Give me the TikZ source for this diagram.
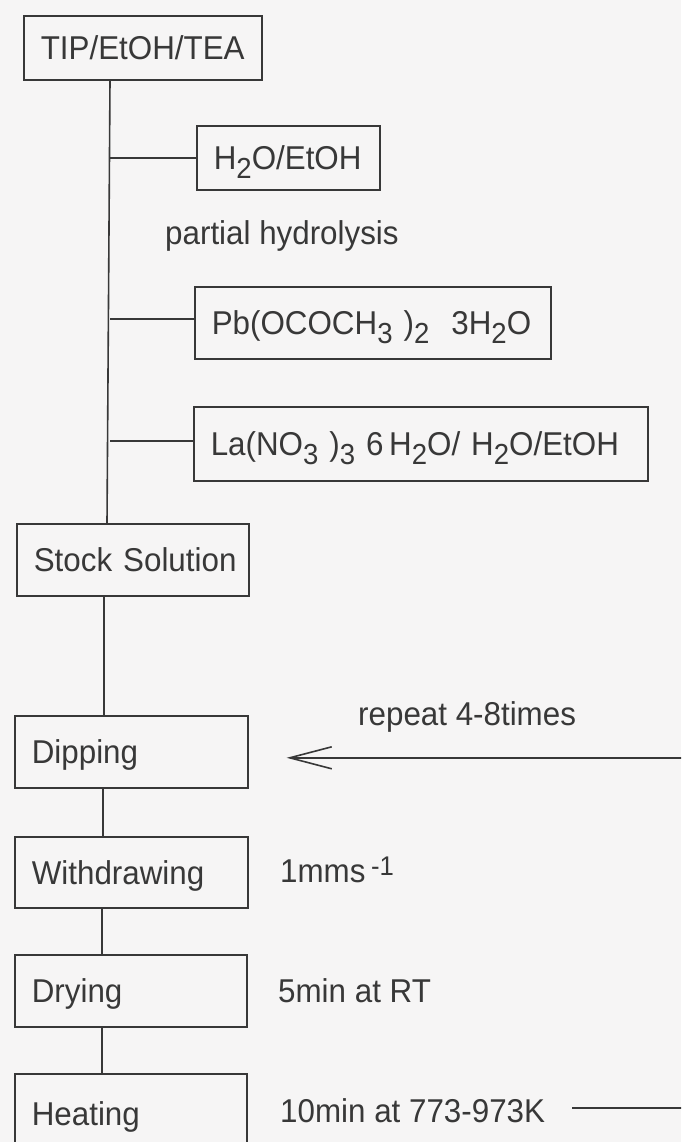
\documentclass[tikz,border=0pt]{standalone}
\usepackage{fontspec}
\setmainfont[FakeStretch=0.95]{Liberation Sans}
\usetikzlibrary{arrows.meta,calc}
\definecolor{ink}{HTML}{383838}
\definecolor{paper}{HTML}{F6F5F5}
\newcommand{\chsub}[1]{\raisebox{-9pt}{\fontsize{29}{29}\selectfont #1}}
\newcommand{\chsup}[1]{\raisebox{7pt}{\fontsize{27}{27}\selectfont #1}}
\tikzset{
  stepbox/.style={draw=ink, line width=1.6pt, text=ink, anchor=north west,
    align=left, inner xsep=17pt, inner ysep=0pt, text height=24pt, text depth=0pt},
  note/.style={text=ink, inner sep=0pt, anchor=base west},
  conn/.style={draw=ink, line width=1.6pt}
}
\begin{document}
\begin{tikzpicture}[x=1pt,y=-1pt,font=\fontsize{33}{38}\selectfont]
\fill[paper] (0,0) rectangle (681,1142);
\useasboundingbox (0,0) rectangle (681,1142);
\clip (0,0) rectangle (681,1142);

% boxes
\node[stepbox, text width=204pt, minimum height=64pt] (tip) at (23,15) {\mbox{TIP/EtOH/TEA}};
\node[stepbox, text width=149pt, minimum height=64pt] (h2o) at (196,125) {\mbox{H\chsub{2}O/EtOH}};
\node[stepbox, text width=322pt, minimum height=72pt] (pb) at (194,286) {\mbox{Pb(OCOCH\chsub{3}\,\,)\chsub{2}\ \ 3H\chsub{2}O}};
\node[stepbox, text width=420pt, minimum height=74pt] (la) at (193,406) {\mbox{La(NO\chsub{3}\,\,)\chsub{3}\ 6\,H\chsub{2}O/ H\chsub{2}O/EtOH}};
\node[stepbox, text width=198pt, minimum height=72pt] (stock) at (16,523) {\mbox{Stock Solution}};
\node[stepbox, text width=199pt, minimum height=72pt] (dip) at (14,715) {\mbox{Dipping}};
\node[stepbox, text width=199pt, minimum height=71pt] (wd) at (14,836) {\mbox{Withdrawing}};
\node[stepbox, text width=198pt, minimum height=72pt] (dry) at (14,954) {\mbox{Drying}};
\node[stepbox, text width=198pt, minimum height=80pt] (heat) at (14,1073) {\mbox{Heating}};

% free labels
\node[note] (hyd) at (165,244) {partial hydrolysis};
\node[note] (rep) at (358,725) {repeat 4-8times};
\node[note] (wdnote) at (280,882) {1mms\,\chsup{-1}};
\node[note] (drynote) at (278,1002) {5min at RT};
\node[note] (heatnote) at (280,1122) {10min at 773-973K};

% trunk
\coordinate (ttop) at ($(tip.south west)+(87,0)$);
\coordinate (tbot) at ($(stock.north west)+(91,0)$);
\draw[conn] (ttop) -- (tbot);
\draw[conn] (h2o.west) -- (h2o.west -| ttop);
\draw[conn] ($(pb.west)+(0,-4)$) -- ($(pb.west -| ttop)+(0,-4)$);
\draw[conn] ($(la.west)+(0,-3)$) -- ($(la.west -| ttop)+(0,-3)$);

% lower chain
\draw[conn] ($(stock.south west)+(88,0)$) -- ($(dip.north west)+(90,0)$);
\draw[conn] ($(dip.south west)+(89,0)$) -- ($(wd.north west)+(89,0)$);
\draw[conn] ($(wd.south west)+(88,0)$) -- ($(dry.north west)+(88,0)$);
\draw[conn] ($(dry.south west)+(88,0)$) -- ($(heat.north west)+(88,0)$);

% feedback loop
\coordinate (fbstart) at ($(heatnote.base east)+(27,-14)$);
\coordinate (redge) at (700,0);
\coordinate (fbend) at ($(dip.east)+(38,6)$);
\draw[conn, -{Straight Barb[length=42pt,width=22pt]}] (fbstart) -- (fbstart -| redge) |- (fbend);
\end{tikzpicture}
\end{document}
